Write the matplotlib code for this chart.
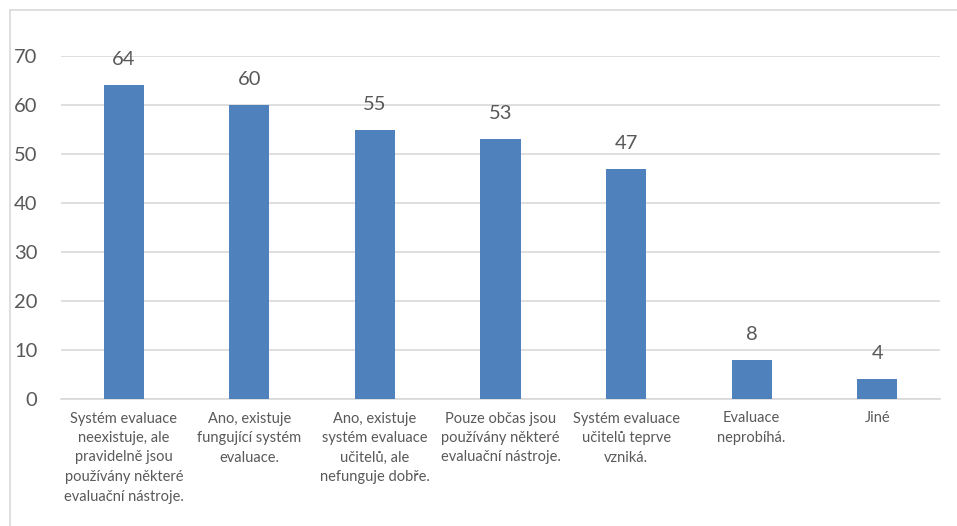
import matplotlib.pyplot as plt
from matplotlib.lines import Line2D

categories = [
    "Systém evaluace\nneexistuje, ale\npravidelně jsou\npoužívány některé\nevaluační nástroje.",
    "Ano, existuje\nfungující systém\nevaluace.",
    "Ano, existuje\nsystém evaluace\nučitelů, ale\nnefunguje dobře.",
    "Pouze občas jsou\npoužívány některé\nevaluační nástroje.",
    "Systém evaluace\nučitelů teprve\nvzniká.",
    "Evaluace\nneprobíhá.",
    "Jiné",
]
values = [64, 60, 55, 53, 47, 8, 4]

W, H = 957, 526
fig = plt.figure(figsize=(W / 100, H / 100), dpi=100)
plt.rcParams['font.family'] = ['Lato', 'DejaVu Sans']

# plot area in pixels: x 61..940, y(70)=56, y(0)=399
left, right = 61, 940
top70, bottom0 = 56, 399
ax = fig.add_axes([left / W, 1 - bottom0 / H, (right - left) / W, (bottom0 - top70) / H])

text_col = "#595959"
x = range(len(values))
bars = ax.bar(x, values, width=0.32, color="#4F81BD", zorder=3)
for b, v in zip(bars, values):
    ax.text(b.get_x() + b.get_width() / 2, v + 5.2, str(v), ha="center", va="center",
            fontsize=14.5, color=text_col)

ax.set_xlim(-0.5, len(values) - 0.5)
ax.set_ylim(0, 70)
ax.set_yticks(range(0, 71, 10))
ax.yaxis.grid(True, color="#D9D9D9", linewidth=1.2, zorder=0)
ax.set_xticks(list(x))
ax.set_xticklabels(categories, fontsize=10.5, color=text_col, linespacing=1.5)
ax.tick_params(axis="x", length=0, pad=9)
ax.tick_params(axis="y", length=0, pad=17, labelsize=14.5, labelcolor=text_col)
for s in ["top", "right", "left"]:
    ax.spines[s].set_visible(False)
ax.spines["bottom"].set_color("#D9D9D9")
ax.spines["bottom"].set_linewidth(1.2)

# chart frame, visible on top and left only
fig.add_artist(Line2D([10 / W, 1], [1 - 10 / H, 1 - 10 / H], color="#D9D9D9", lw=1.2,
                      transform=fig.transFigure))
fig.add_artist(Line2D([10 / W, 10 / W], [0, 1 - 10 / H], color="#D9D9D9", lw=1.2,
                      transform=fig.transFigure))

fig.savefig("out.png", dpi=100)
